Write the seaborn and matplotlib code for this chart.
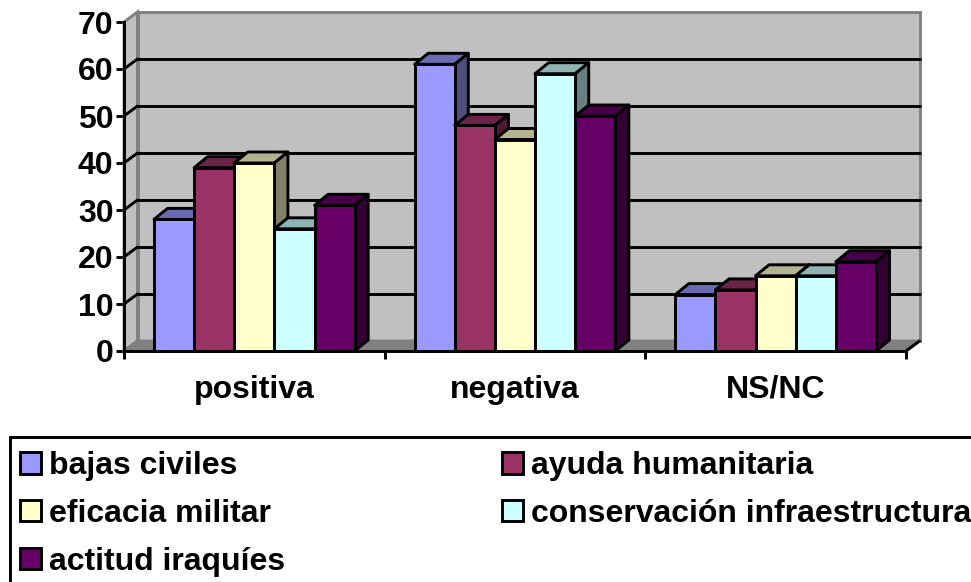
import matplotlib
matplotlib.use("Agg")
import matplotlib.pyplot as plt
import numpy as np
import pandas as pd
import seaborn as sns
from matplotlib.colors import to_rgb
from matplotlib.patches import Rectangle

categorias = ["positiva", "negativa", "NS/NC"]
series = ["bajas civiles", "ayuda humanitaria", "eficacia militar",
          "conservación infraestructura", "actitud iraquíes"]
bajas_civiles = [28, 61, 12]
ayuda_humanitaria = [39, 48, 13]
eficacia_militar = [40, 45, 16]
conservacion = [26, 59, 16]
actitud_iraquies = [31, 50, 19]
colores = ["#9999FF", "#993366", "#FFFFCC", "#CCFFFF", "#660066"]
y_ticks = [0, 10, 20, 30, 40, 50, 60, 70]

valores = [bajas_civiles, ayuda_humanitaria, eficacia_militar, conservacion, actitud_iraquies]
df = pd.DataFrame([
    {"categoria": c, "serie": s, "valor": v[i]}
    for s, v in zip(series, valores) for i, c in enumerate(categorias)
])

sns.set_theme(style="white")
plt.rcParams["font.family"] = ["Liberation Sans", "DejaVu Sans"]
plt.rcParams["font.weight"] = "bold"

W, H = 971, 582
FS = 23.0
LW = 2.1
fig = plt.figure(figsize=(W / 100, H / 100), dpi=100, facecolor="white")
ax = fig.add_axes([124 / W, (H - 351) / H, 782 / W, 329 / H])

sns.barplot(data=df, x="categoria", y="valor", hue="serie", hue_order=series,
            order=categorias, palette=colores, width=0.77, gap=0, saturation=1,
            edgecolor="black", linewidth=LW, ax=ax)

ax.set_xlim(-0.5, 2.5)
ax.set_ylim(0, 70)
ax.patch.set_visible(False)

# depth of the pseudo-3D box, in data units
DX_WALL = 13.5 / (782 / 3)
DY_WALL = 10 / (329 / 70)
DX_BAR = 13.5 / (782 / 3)
DY_BAR = 11 / (329 / 70)
x0, x1 = ax.get_xlim()
y0, y1 = ax.get_ylim()
GRAY = "#808080"
WALL = "#C0C0C0"

ax.fill([x0 + DX_WALL, x1 + DX_WALL, x1 + DX_WALL, x0 + DX_WALL],
        [y0 + DY_WALL, y0 + DY_WALL, y1 + DY_WALL, y1 + DY_WALL],
        facecolor=WALL, edgecolor=GRAY, lw=LW, clip_on=False, zorder=0.5)
ax.fill([x0, x0 + DX_WALL, x0 + DX_WALL, x0],
        [y0, y0 + DY_WALL, y1 + DY_WALL, y1],
        facecolor=WALL, edgecolor=GRAY, lw=LW, clip_on=False, zorder=0.6)
ax.fill([x0, x0 + DX_WALL, x1 + DX_WALL, x1],
        [y0, y0 + DY_WALL, y0 + DY_WALL, y0],
        facecolor=GRAY, edgecolor=GRAY, lw=LW, clip_on=False, zorder=0.6)
ax.plot([x1, x1 + DX_WALL], [y0, y0 + DY_WALL], color="black", lw=LW,
        clip_on=False, zorder=0.8)

for t in y_ticks[1:-1]:
    ax.plot([x0 + DX_WALL, x1 + DX_WALL], [t + DY_WALL] * 2, color="black", lw=LW,
            clip_on=False, zorder=0.7)
for t in y_ticks[:-1]:
    ax.plot([x0, x0 + DX_WALL], [t, t + DY_WALL], color="black" if t else GRAY, lw=LW,
            clip_on=False, zorder=0.7)

# bars: seaborn draws the fronts, top and side faces follow from them
bars = sorted((p for c in ax.containers for p in c), key=lambda p: p.get_x())
for i, p in enumerate(bars):
    xa, w, h = p.get_x(), p.get_width(), p.get_height()
    base = np.array(to_rgb(p.get_facecolor()[:3]))
    z = 2 + i * 0.01
    ax.fill([xa, xa + w, xa + w + DX_BAR, xa + DX_BAR], [h, h, h + DY_BAR, h + DY_BAR],
            facecolor=base * 0.7, edgecolor="black", lw=LW, zorder=z,
            joinstyle="round", clip_on=False)
    ax.fill([xa + w, xa + w + DX_BAR, xa + w + DX_BAR, xa + w], [0, DY_BAR, h + DY_BAR, h],
            facecolor=base * 0.5, edgecolor="black", lw=LW, zorder=z,
            joinstyle="round", clip_on=False)
    p.set_zorder(z + 0.001)
    p.set_clip_on(False)

for side in ("top", "right"):
    ax.spines[side].set_visible(False)
for side in ("left", "bottom"):
    ax.spines[side].set_color("black")
    ax.spines[side].set_linewidth(LW)
    ax.spines[side].set_zorder(1)

ax.set_xlabel("")
ax.set_ylabel("")
ax.set_yticks(y_ticks)
ax.set_xticks(range(len(categorias)))
ax.set_xticklabels(categorias, fontsize=FS, fontweight="bold", color="black")
ax.set_xticks(np.arange(x0, x1 + 0.1, 1), minor=True)
ax.tick_params(axis="x", which="major", length=0, pad=17)
ax.tick_params(axis="x", which="minor", length=5.5, width=LW, color="black", bottom=True)
ax.tick_params(axis="y", length=5.5, width=LW, color="black", pad=2, left=True,
               labelsize=FS, labelcolor="black")
for lab in ax.get_yticklabels():
    lab.set_fontweight("bold")

# legend: open box running past the canvas edges
fig.add_artist(Rectangle((10 / W, -0.05), 1.1, (H - 437) / H + 0.05,
                         transform=fig.transFigure, facecolor="white",
                         edgecolor="black", lw=LW, zorder=-1))
handles, labels = ax.get_legend_handles_labels()
order = [0, 2, 4, 1, 3]
leg = ax.legend([handles[i] for i in order], [labels[i] for i in order],
          ncol=2, loc="upper left", bbox_to_anchor=(20 / W, (H - 451) / H),
          bbox_transform=fig.transFigure, frameon=False, borderpad=0, borderaxespad=0,
          prop={"family": "Liberation Sans", "weight": "bold", "size": FS},
          labelcolor="black",
          handlelength=0.66, handleheight=0.66, handletextpad=0.24,
          columnspacing=6.8, labelspacing=0.56)

fig.savefig("out.png", dpi=100)
